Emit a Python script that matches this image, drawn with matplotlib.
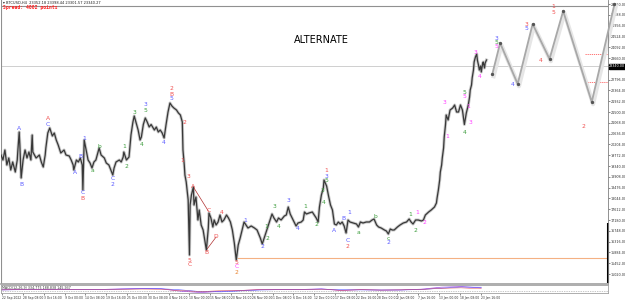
import numpy as np
import matplotlib
matplotlib.use('Agg')
import matplotlib.pyplot as plt

# ---- price trace (H4 bar index, price) --------------------------------------
bars = [0, 3, 6, 9, 12, 15, 18, 22, 25, 26, 28, 29, 31, 34, 37, 40, 43, 46, 48, 49,
        54, 59, 62, 65, 68, 69, 72, 75, 79, 82, 85, 88, 92, 97, 100, 105, 108, 111, 112, 116,
        119, 122, 125, 126, 128, 131, 134, 137, 140, 143, 146, 149, 151, 154, 159, 162, 166, 169, 172, 174,
        177, 182, 185, 188, 189, 193, 197, 200, 203, 205, 208, 211, 214, 216, 219, 222, 225, 228, 231, 236,
        239, 242, 245, 248, 251, 254, 257, 260, 263, 266, 270, 273, 276, 279, 280, 282, 283, 285, 286, 288,
        290, 291, 293, 296, 297, 300, 303, 305, 308, 311, 313, 316, 319, 320, 323, 326, 328, 331, 334, 337,
        340, 343, 347, 350, 353, 356, 359, 362, 365, 368, 371, 374, 377, 380, 385, 390, 394, 399, 402, 405,
        408, 411, 414, 417, 420, 424, 427, 431, 436, 439, 442, 445, 448, 451, 454, 457, 462, 465, 467, 470,
        474, 479, 482, 485, 488, 490, 493, 496, 497, 501, 504, 507, 510, 513, 516, 519, 522, 525, 528, 531,
        534, 537, 542, 547, 550, 553, 557, 562, 567, 571, 574, 578, 581, 585, 590, 593, 596, 599, 602, 605,
        610, 614, 619, 624, 628, 631, 634, 638, 642, 647, 650, 653, 658, 662, 667, 670, 671, 673, 675, 676,
        678, 679, 681, 682, 684, 685, 688, 691, 695, 698, 701, 704, 707, 710, 713, 716, 719, 721, 722, 724,
        725, 727, 728, 730, 732, 733, 735, 736, 738, 739, 741, 742, 744, 745, 747]
price = [19780, 19580, 19980, 19380, 19660, 19180, 19500, 19100, 19580, 19980, 20700, 20180, 18860, 19580, 19980, 19660, 19900, 19580, 20580, 19900,
         19660, 19780, 19500, 19300, 19780, 20060, 20660, 20860, 20540, 20660, 20380, 20180, 19860, 19980, 19780, 19740, 19580, 19380, 19180, 19580,
         19500, 19660, 19380, 18380, 20380, 19980, 19580, 19460, 19260, 19500, 19580, 19860, 20060, 19780, 19660, 19460, 19380, 19180, 18980, 19260,
         19500, 19580, 19500, 19700, 19900, 19580, 19700, 20580, 21100, 21340, 21060, 20780, 20380, 20500, 21000, 21260, 21100, 20900, 21000, 20780,
         20900, 20700, 20780, 20660, 20460, 21000, 21500, 21860, 21740, 21660, 21580, 21460, 21380, 21100, 19980, 19380, 18980, 18700, 18460, 17980,
         15780, 17780, 18180, 18500, 17780, 18100, 17180, 17580, 16980, 16780, 16460, 15980, 16860, 17460, 17260, 16900, 17180, 16980, 17100, 17380,
         17100, 17180, 17380, 17260, 17100, 16780, 16260, 15580, 16180, 16460, 16780, 17100, 16980, 16860, 16940, 16860, 16780, 16460, 16220, 16460,
         16700, 16940, 17180, 17420, 17260, 17100, 17260, 17180, 17340, 17380, 17700, 17420, 17260, 17100, 16940, 17060, 17100, 17180, 17500, 17420,
         17460, 17500, 17380, 17260, 17100, 17700, 18180, 18460, 18780, 18540, 18140, 17780, 17580, 17020, 16980, 17100, 17020, 17100, 16940, 16660,
         17180, 17100, 17060, 17020, 16900, 17100, 17060, 17100, 17100, 17180, 17220, 16980, 16900, 16860, 16780, 16740, 16620, 16820, 16780, 16780,
         16900, 16980, 17060, 17100, 17220, 17100, 17020, 17180, 17180, 17140, 17180, 17380, 17500, 17580, 17700, 17860, 18060, 18380, 18780, 19100,
         19380, 19660, 20060, 20500, 21000, 21380, 21180, 21580, 21660, 21780, 21500, 21500, 21780, 21580, 21000, 21460, 21780, 22100, 22380, 22580,
         22860, 23180, 23500, 23700, 23820, 23580, 23340, 23180, 23340, 23100, 23420, 23500, 23260, 23460, 23580]

# projected alternate count (zigzag)
proj_bars = [756, 768, 795, 818, 844, 865, 909, 944]
proj_price = [23020, 24260, 22620, 25020, 23620, 25540, 21900, 25820]

current_price = 23340
level_orange = 15660
levels_red = [23820, 22700]
level_top = 25740

# MACD sub-window
macd_bars = [0, 31, 62, 92, 123, 154, 185, 216, 246, 277, 308, 339, 369, 400, 431,
             462, 493, 523, 554, 585, 616, 646, 677, 708, 739]
macd = [0, 45, 30, 75, 30, 45, 120, 150, 120, -150, -300, -150, -75, 45, 30,
        45, 120, -75, 30, -30, 0, 75, 300, 375, 225]
signal = [0, 20, 35, 50, 45, 40, 80, 130, 135, 0, -200, -220, -110, -10, 30,
          40, 90, 20, 0, -10, -10, 40, 180, 320, 300]

time_labels = ['22 Sep 2022', '28 Sep 08:00', '3 Oct 16:00', '9 Oct 00:00', '14 Oct 08:00',
               '19 Oct 16:00', '25 Oct 00:00', '30 Oct 08:00', '4 Nov 16:00', '10 Nov 00:00',
               '15 Nov 08:00', '20 Nov 16:00', '26 Nov 00:00', '1 Dec 08:00', '6 Dec 16:00',
               '12 Dec 00:00', '17 Dec 08:00', '22 Dec 16:00', '28 Dec 00:00', '2 Jan 08:00',
               '7 Jan 16:00', '13 Jan 00:00', '18 Jan 08:00', '23 Jan 16:00']

R, B, G, P, O = '#f05050', '#5a5aff', '#3c9c3c', '#ff40ff', '#e8802a'
wave_labels = [
    ('A', 28, 20860, B), ('B', 32, 18620, B), ('A', 72, 21220, R), ('C', 72, 20980, B),
    ('A', 114, 19060, B), ('B', 122, 19700, B), ('1', 128, 20420, B), ('C', 126, 18260, B),
    ('B', 126, 18060, R), ('a', 140, 19140, G), ('b', 152, 20100, G), ('C', 172, 18820, B),
    ('2', 172, 18620, B), ('1', 189, 20100, G), ('2', 193, 19340, G), ('3', 205, 21460, G),
    ('4', 216, 20180, G), ('3', 222, 21780, B), ('5', 222, 21580, G), ('4', 251, 20260, B),
    ('2', 262, 22420, R), ('B', 262, 22220, R), ('5', 262, 22020, B), ('2', 282, 21100, R),
    ('1', 279, 19580, R), ('3', 288, 18900, R), ('A', 296, 18500, R), ('C', 319, 17540, R),
    ('5', 290, 15580, R), ('C', 290, 15380, R), ('B', 316, 15900, R), ('D', 331, 16500, R),
    ('4', 339, 17500, R), ('5', 363, 15500, R), ('C', 363, 15300, P), ('2', 363, 15060, O),
    ('1', 376, 17180, B), ('2', 403, 16100, B), ('1', 408, 16900, G), ('2', 410, 16460, G),
    ('3', 420, 17700, G), ('4', 427, 16940, G), ('3', 442, 17980, B), ('4', 456, 16860, B),
    ('1', 468, 17740, G), ('2', 485, 17020, G), ('3', 494, 18380, G), ('4', 496, 17860, G),
    ('1', 501, 19140, R), ('3', 501, 18940, B), ('5', 501, 18740, G), ('A', 513, 16740, B),
    ('B', 527, 17220, B), ('C', 533, 16380, B), ('2', 533, 16140, R), ('1', 536, 17460, B),
    ('a', 550, 16700, G), ('b', 576, 17340, G), ('c', 596, 16460, G), ('2', 596, 16260, B),
    ('1', 630, 17380, G), ('2', 638, 16780, G), ('1', 641, 17460, P), ('2', 651, 17100, P),
    ('3', 682, 21900, P), ('1', 687, 20500, P), ('5', 713, 22260, G), ('5', 713, 22100, P),
    ('4', 713, 20660, G), ('1', 719, 21700, P), ('3', 722, 21100, P), ('3', 730, 23900, P),
    ('4', 736, 22940, P),
    ('3', 762, 24420, B), ('5', 762, 24260, G), ('5', 762, 24100, P), ('4', 787, 22580, B),
    ('3', 808, 25020, R), ('5', 808, 24820, B), ('4', 830, 23540, R), ('1', 850, 25740, R),
    ('5', 850, 25500, R), ('2', 896, 20900, R),
]

W, H = 625, 301
fig = plt.figure(figsize=(W / 100, H / 100), dpi=100)
ax = fig.add_axes([1 / W, (H - 284) / H, 607 / W, 284 / H])
ax.set_xlim(0, 934)
ax.set_ylim(14620, 25980)

# bid line, levels
ax.axhline(current_price, color='#c8c8c8', lw=0.6, zorder=1)
ax.axhline(level_top, color='#909090', lw=0.8, zorder=1)
ax.hlines(level_orange, 363, 934, color='#f4b183', lw=0.8, zorder=1)
ax.hlines(levels_red, 898, 934, color='#ff6060', lw=0.6, ls=(0, (1.5, 1)), zorder=1)

# price (candles collapse into a jagged band at this scale)
ax.plot(bars, price, color='#a0a0a0', lw=2.2, alpha=0.55, zorder=2)
ax.plot(bars, price, color='#383838', lw=0.9, zorder=3)

# pattern lines
ax.plot([296, 319], [18500, 17540], color='#b03030', lw=0.5, zorder=2)
ax.plot([316, 331], [15980, 16500], color='#b03030', lw=0.5, zorder=2)

# projected path with soft shadow
ax.plot(np.array(proj_bars) + 2, np.array(proj_price) - 90, color='#e6e6e6', lw=3.0,
        zorder=2, clip_on=False)
ax.plot(proj_bars, proj_price, color='#a8a8a8', lw=1.3, zorder=3, clip_on=False)
ax.plot(proj_bars, proj_price, 'o', color='#555555', ms=1.4, zorder=4, clip_on=False)

for t, bx, py, c in wave_labels:
    ax.text(bx, py, t, color=c, fontsize=4.3, ha='center', va='center', zorder=5)

ax.text(320 * 934 / 607, 25980 - 40 * 40, 'ALTERNATE', fontsize=7, ha='center',
        va='center', color='black')

# axes styling
for s in ['top', 'left']:
    ax.spines[s].set_visible(False)
ax.spines['right'].set_color('#808080')
ax.spines['right'].set_linewidth(0.6)
ax.spines['bottom'].set_color('#a0a0a0')
ax.spines['bottom'].set_linewidth(1.2)
ax.set_xticks([])
ax.yaxis.tick_right()
yt = np.arange(25820, 14700, -432)
ax.set_yticks(yt)
ax.set_yticklabels([f'{v:.2f}' for v in yt])
ax.tick_params(axis='y', labelsize=2.4, length=1.2, width=0.4, pad=0.6,
               colors='#303030')
ax.axvline(0.5, color='#909090', lw=0.8)
ax.vlines(934, 14660, 17060, color='black', lw=1.5, clip_on=False)
ax.text(1.002, current_price, f'{current_price:.2f}', transform=ax.get_yaxis_transform(),
        fontsize=2.4, color='white', va='center', ha='left',
        bbox=dict(boxstyle='square,pad=0.15', fc='black', ec='black'))

# header texts
fig.text(3 / W, 1 - 3 / H, '\u25be BTCUSD,H4  23352.18 23398.44 23301.57 23340.27',
         fontsize=2.6, va='center', ha='left', color='#202020')
fig.text(3 / W, 1 - 8 / H, 'Spread: 4002 points', fontsize=3.4, va='center', ha='left',
         color='#ff2020', fontweight='bold', family='DejaVu Sans Mono')

# MACD window
ax2 = fig.add_axes([1 / W, (H - 293) / H, 607 / W, 8 / H])
ax2.set_xlim(0, 934)
ax2.set_ylim(-350, 550)
ax2.axhline(-150, color='#909090', lw=0.5, ls=(0, (1, 1.5)))
ax2.plot(macd_bars, macd, color='#a050e0', lw=0.5)
ax2.plot(macd_bars, signal, color='#5050ff', lw=0.4)
ax2.plot(macd_bars, np.array(macd) * 0.6, color='#e04040', lw=0.3)
for s in ax2.spines.values():
    s.set_color('#a0a0a0')
    s.set_linewidth(0.6)
ax2.set_yticks([])
ax2.set_xticks([2 + 32 * k for k in range(len(time_labels))])
ax2.set_xticklabels(time_labels, ha='left')
ax2.tick_params(axis='x', labelsize=2.2, length=1.5, width=0.4, pad=0.8, colors='#303030')
ax2.text(2, 480, 'MACD(12,26,9) 334.775 188.838 145.937', fontsize=2.3, va='top',
         ha='left', color='#303030')

fig.savefig('out.png', dpi=100)
